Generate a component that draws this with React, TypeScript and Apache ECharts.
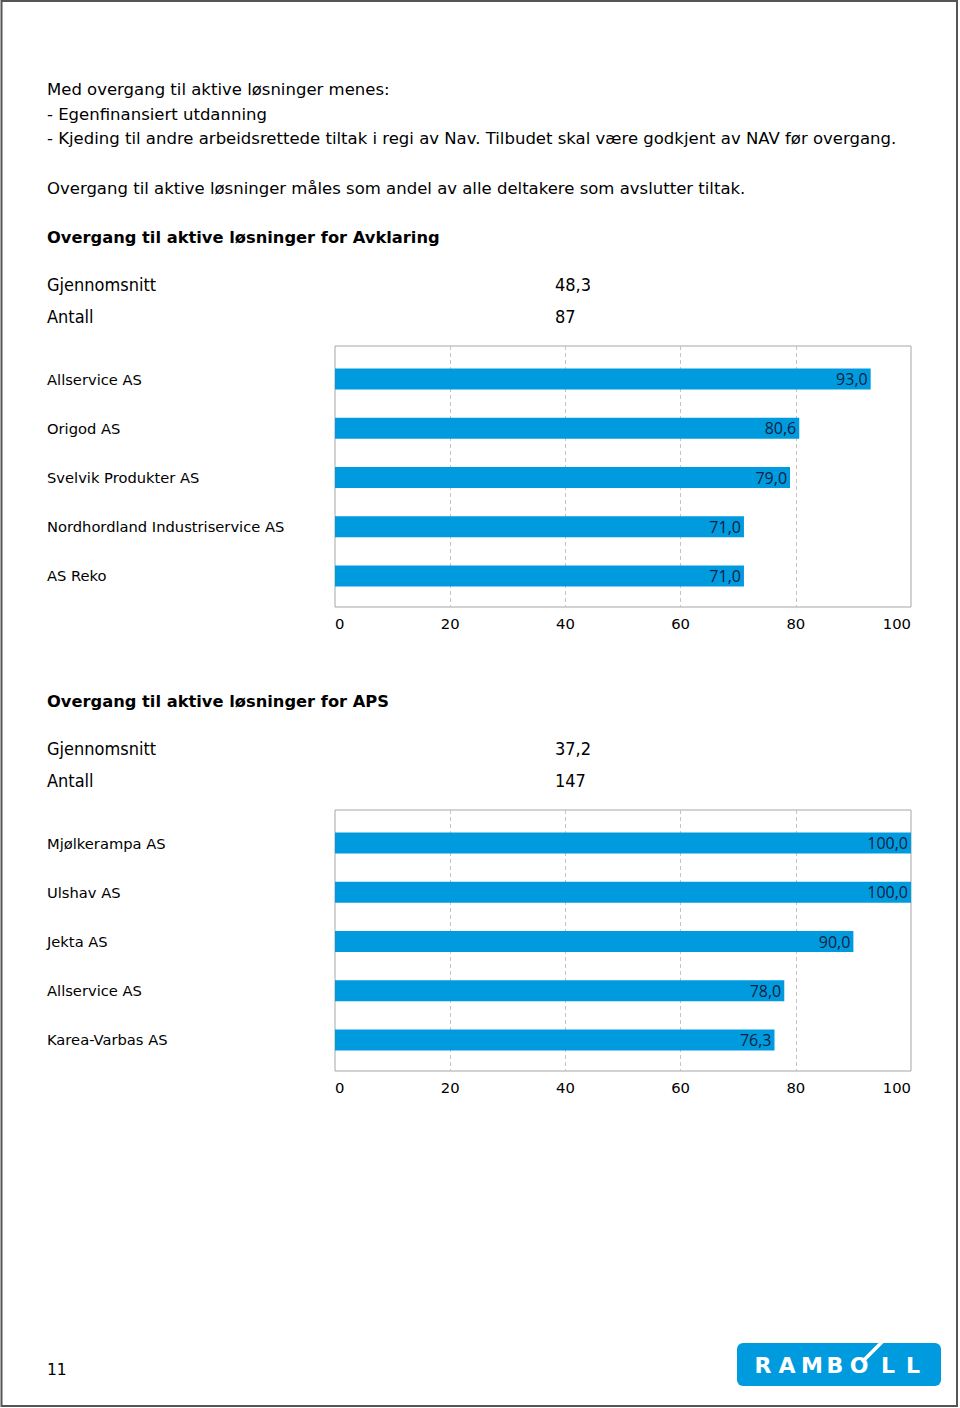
import React, { useEffect, useRef } from 'react';
import * as echarts from 'echarts';

const introLines = [
  'Med overgang til aktive løsninger menes:',
  '- Egenfinansiert utdanning',
  '- Kjeding til andre arbeidsrettede tiltak i regi av Nav. Tilbudet skal være godkjent av NAV før overgang.',
];
const measureLine = 'Overgang til aktive løsninger måles som andel av alle deltakere som avslutter tiltak.';

const avklaringTitle = 'Overgang til aktive løsninger for Avklaring';
const avklaringSummaryLabels = ['Gjennomsnitt', 'Antall'];
const avklaringSummaryValues = ['48,3', '87'];
const avklaringCategories = ['Allservice AS', 'Origod AS', 'Svelvik Produkter AS', 'Nordhordland Industriservice AS', 'AS Reko'];
const avklaringValues = [93.0, 80.6, 79.0, 71.0, 71.0];

const apsTitle = 'Overgang til aktive løsninger for APS';
const apsSummaryLabels = ['Gjennomsnitt', 'Antall'];
const apsSummaryValues = ['37,2', '147'];
const apsCategories = ['Mjølkerampa AS', 'Ulshav AS', 'Jekta AS', 'Allservice AS', 'Karea-Varbas AS'];
const apsValues = [100.0, 100.0, 90.0, 78.0, 76.3];

const axisMin = 0;
const axisMax = 100;
const axisStep = 20;

const pageNumber = '11';
const logoLetters = ['R', 'A', 'M', 'B', 'O', 'L', 'L'];

const FONT = "'DejaVu Sans', Verdana, sans-serif";
const FONT_COND = "'DejaVu Sans Condensed', 'DejaVu Sans', sans-serif";
const FONT_LABEL = "'Open Sans', 'Liberation Sans', sans-serif";
const BLUE = '#009bdf';

export default function App() {
  const ref = useRef<HTMLDivElement>(null);

  useEffect(() => {
    if (!ref.current) return;
    const chart = echarts.init(ref.current, undefined, { renderer: 'svg' });

    const plotLeft = 335;
    const plotWidth = 576;
    const boxTops = [346, 810];
    const boxHeight = 261;
    const barInset = 8.5;

    const grids: any[] = [];
    const xAxes: any[] = [];
    const yAxes: any[] = [];
    const series: any[] = [];

    const fmt = (v: number) => v.toFixed(1).replace('.', ',');

    [
      { cats: avklaringCategories, vals: avklaringValues },
      { cats: apsCategories, vals: apsValues },
    ].forEach((c, i) => {
      const top = boxTops[i];
      const gBox = grids.length;
      grids.push({
        left: plotLeft, top, width: plotWidth, height: boxHeight,
        show: true, borderColor: '#a6a6a6', borderWidth: 1, backgroundColor: 'transparent',
        outerBoundsMode: 'none', containLabel: false,
      });
      const gBar = grids.length;
      grids.push({
        left: plotLeft, top: top + barInset, width: plotWidth, height: boxHeight - 2 * barInset + 2,
        show: false, outerBoundsMode: 'none', containLabel: false,
      });
      xAxes.push({
        gridIndex: gBox, type: 'value', min: axisMin, max: axisMax, interval: axisStep,
        axisLine: { show: false }, axisTick: { show: false },
        splitLine: { show: true, showMinLine: false, showMaxLine: false, lineStyle: { color: '#c4c4c4', type: [4, 3], width: 1 } },
        axisLabel: {
          show: true, margin: 9, color: '#000', fontFamily: FONT, fontSize: 14.8,
          alignMinLabel: 'left', alignMaxLabel: 'right',
        },
      });
      yAxes.push({ gridIndex: gBox, type: 'value', show: false });
      const xBar = xAxes.length;
      xAxes.push({ gridIndex: gBar, type: 'value', min: axisMin, max: axisMax, show: false, splitLine: { show: false } });
      const yBar = yAxes.length;
      yAxes.push({
        gridIndex: gBar, type: 'category', data: c.cats, inverse: true,
        axisLine: { show: false }, axisTick: { show: false },
        axisLabel: { show: true, align: 'left', margin: plotLeft - 47, color: '#000', fontFamily: FONT, fontSize: 14.7 },
      });
      series.push({
        type: 'bar', xAxisIndex: xBar, yAxisIndex: yBar, data: c.vals, barWidth: 21,
        itemStyle: { color: BLUE },
        label: {
          show: true, position: 'insideRight', distance: 3, color: '#0e1f3d',
          fontFamily: FONT_LABEL, fontSize: 16, formatter: (p: any) => fmt(p.value),
        },
      });
    });

    const graphics: any[] = [];
    const txt = (text: string, x: number, y: number, size: number, opts: any = {}) =>
      graphics.push({
        type: 'text', x, y, silent: true,
        style: { text, fill: '#000', font: `${opts.bold ? 'bold ' : ''}${size}px ${opts.family || FONT}`, textVerticalAlign: 'middle', verticalAlign: 'middle', align: opts.align || 'left' },
      });

    graphics.push({ type: 'rect', shape: { x: 1.5, y: 1, width: 955.5, height: 1405 }, style: { fill: 'none', stroke: '#555', lineWidth: 2 }, silent: true });

    const introY = [89, 114, 138];
    introLines.forEach((l, i) => txt(l, 47, introY[i], 16.5));
    txt(measureLine, 47, 188, 16.5);

    txt(avklaringTitle, 47, 237, 16.3, { bold: true });
    avklaringSummaryLabels.forEach((l, i) => {
      txt(l, 47, 284 + i * 32, 18, { family: FONT_COND });
      txt(avklaringSummaryValues[i], 555, 284 + i * 32, 18, { family: FONT_COND });
    });

    txt(apsTitle, 47, 701, 16.3, { bold: true });
    apsSummaryLabels.forEach((l, i) => {
      txt(l, 47, 748 + i * 32, 18, { family: FONT_COND });
      txt(apsSummaryValues[i], 555, 748 + i * 32, 18, { family: FONT_COND });
    });

    txt(pageNumber, 47, 1370, 15.5);

    // Logo
    graphics.push({ type: 'rect', shape: { x: 737, y: 1343, width: 204, height: 43, r: 6 }, style: { fill: BLUE }, silent: true });
    const letterX = [763, 787, 812, 835, 859, 888, 913];
    logoLetters.forEach((l, i) =>
      graphics.push({
        type: 'text', x: letterX[i], y: 1365, silent: true,
        style: { text: l, fill: '#fff', font: `bold 22px ${FONT}`, align: 'center', verticalAlign: 'middle', textVerticalAlign: 'middle' },
      })
    );
    graphics.push({ type: 'line', shape: { x1: 862, y1: 1362, x2: 884, y2: 1340 }, style: { stroke: '#fff', lineWidth: 3.5 }, silent: true });

    chart.setOption({
      animation: false,
      backgroundColor: '#fff',
      grid: grids,
      xAxis: xAxes,
      yAxis: yAxes,
      series,
      graphic: graphics,
    });

    return () => chart.dispose();
  }, []);

  return <div ref={ref} style={{ position: 'absolute', left: 0, top: 0, width: 960, height: 1408 }} />;
}
